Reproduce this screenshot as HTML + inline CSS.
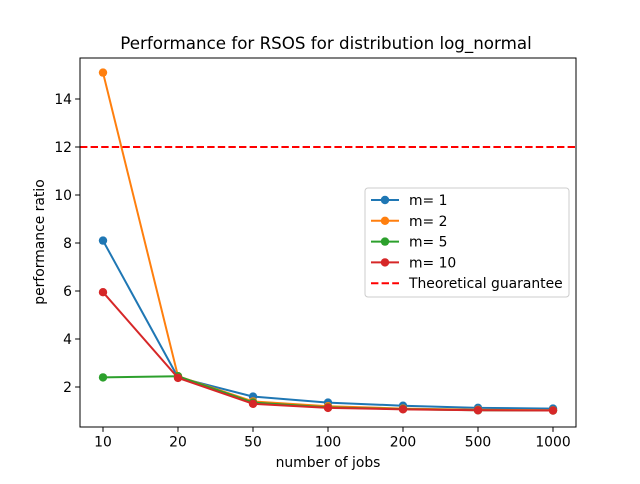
<!DOCTYPE html>
<html><head><meta charset="utf-8"><style>
body{margin:0;background:#fff;font-family:"DejaVu Sans","Liberation Sans",sans-serif;}
</style></head><body>
<svg width="640" height="480" xmlns="http://www.w3.org/2000/svg" font-family="DejaVu Sans, Liberation Sans, sans-serif">
<g id="root"></g>
</svg>
<script>
const categories=["10","20","50","100","200","500","1000"];
const m1=[8.1,2.4,1.6,1.35,1.22,1.13,1.1];
const m2=[15.1,2.45,1.4,1.2,1.1,1.05,1.03];
const m5=[2.4,2.45,1.35,1.15,1.08,1.03,1.02];
const m10=[5.95,2.38,1.3,1.13,1.07,1.03,1.02];
const yTicks=[2,4,6,8,10,12,14];
const guarantee=12;
const seriesNames=["m= 1","m= 2","m= 5","m= 10"];
const colors=["#1f77b4","#ff7f0e","#2ca02c","#d62728"];
const L=80,R=576,T=58,B=427;
const x=i=>103+i*75;
const y=v=>435-v*24;
const ns="http://www.w3.org/2000/svg";
const root=document.getElementById('root');
function mk(tag,attrs,parent){const e=document.createElementNS(ns,tag);for(const k in attrs)e.setAttribute(k,attrs[k]);(parent||root).appendChild(e);return e;}
const t=mk('text',{x:326,y:49,'text-anchor':'middle','font-size':16.7});t.textContent="Performance for RSOS for distribution log_normal";


categories.forEach((c,i)=>{mk('line',{x1:x(i),x2:x(i),y1:B,y2:B+4.9,stroke:'#000'});
const tx=mk('text',{x:x(i),y:B+19.5,'text-anchor':'middle','font-size':13.9});tx.textContent=c;

});
yTicks.forEach(v=>{mk('line',{x1:L-4.9,x2:L,y1:y(v),y2:y(v),stroke:'#000'});
const ty=mk('text',{x:L-8,y:y(v)+5,'text-anchor':'end','font-size':13.9});ty.textContent=v;

});
const xl=mk('text',{x:328,y:467,'text-anchor':'middle','font-size':13.9});xl.textContent="number of jobs";


const yl=mk('text',{x:44,y:242,'text-anchor':'middle','font-size':13.9,transform:'rotate(-90 44 242)'});yl.textContent="performance ratio";


[m1,m2,m5,m10].forEach((s,k)=>{const g=mk('g',{});


mk('polyline',{points:s.map((v,i)=>x(i)+','+y(v)).join(' '),fill:'none',stroke:colors[k],'stroke-width':2});
s.forEach((v,i)=>{const c=mk('circle',{cx:x(i),cy:y(v),r:4.2,fill:colors[k]},g);

});});
const gl=mk('line',{x1:L,x2:R,y1:y(guarantee),y2:y(guarantee),stroke:'#ff0000','stroke-width':2,'stroke-dasharray':'7.4,3.2'});


mk('rect',{x:L,y:T,width:R-L,height:B-T,fill:'none',stroke:'#000','stroke-width':1});
const lg=mk('g',{});


mk('rect',{x:365,y:188,width:204,height:109,rx:3,fill:'#fff','fill-opacity':0.8,stroke:'#ccc'},lg);
const labels=seriesNames.concat(["Theoretical guarantee"]);
labels.forEach((n,k)=>{const yy=200+k*20.8;
if(k<4){mk('line',{x1:371,x2:399,y1:yy,y2:yy,stroke:colors[k],'stroke-width':2},lg);mk('circle',{cx:385,cy:yy,r:4.2,fill:colors[k]},lg);}
else mk('line',{x1:371,x2:399,y1:yy,y2:yy,stroke:'#ff0000','stroke-width':2,'stroke-dasharray':'7.4,3.2'},lg);
const lt=mk('text',{x:409,y:yy+5,'font-size':13.9},lg);lt.textContent=n;

});
</script>
</body></html>
